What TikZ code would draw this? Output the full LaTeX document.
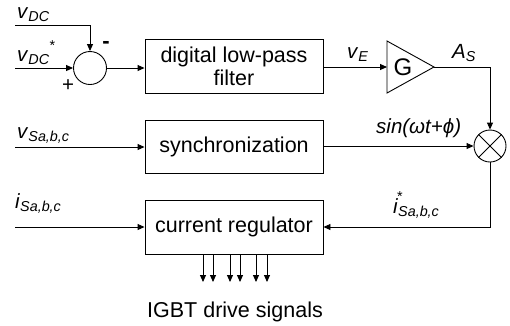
\documentclass[tikz,border=0pt]{standalone}
\usepackage{fontspec}
\setmainfont{Liberation Sans}
\usetikzlibrary{arrows.meta,calc}
\newcommand{\lbl}[2]{\textit{#1}\textsubscript{\textit{#2}}}
\begin{document}
\begin{tikzpicture}[x=1pt,y=-1pt,
  font=\fontsize{20.5}{24}\selectfont,
  big/.style={font=\fontsize{21.5}{25}\selectfont},
  wire/.style={line width=0.9pt},
  sig/.style={line width=0.9pt,-{Triangle[length=7pt,width=6pt]}},
  blk/.style={draw,line width=0.9pt,minimum width=178pt,minimum height=54pt,align=center,inner sep=0pt,big},
  lab/.style={inner sep=0pt,anchor=base west},
  cir/.style={draw,circle,line width=0.9pt,minimum size=33pt,inner sep=0pt}]
\useasboundingbox (0,0) rectangle (510,325);
% blocks
\node[blk] (filter) at (234,66) {digital low-pass\\[-2pt]filter};
\node[blk, minimum height=53pt] (sync) at (234,146.5) {synchronization};
\node[blk] (reg) at (234,227) {current regulator};
% summing junction and multiplier
\node[cir] (sum) at (90,68) {};
\node[cir, minimum size=32pt] (mult) at (490,146) {};
\draw[wire] (mult.north west) -- (mult.south east) (mult.north east) -- (mult.south west);
% gain triangle
\coordinate (Gin) at (387,67);
\coordinate (Gout) at (434,67);
\draw[wire] (387,41) -- (Gout) -- (387,93) -- cycle;
\node[font=\fontsize{24}{28}\selectfont] (G) at (403,67) {G};
% input coordinates
\coordinate (inA) at (15,25);
\coordinate (inB) at (15,68);
\coordinate (inC) at (15,147);
\coordinate (inD) at (15,227);
\coordinate (cA) at (490,67);
\coordinate (cB) at (490,227);
% connectors
\draw[sig] (inA) -| (sum.north);
\draw[sig] (inB) -- (sum.west);
\draw[sig] (sum.east) -- (sum.east -| filter.west);
\draw[sig] (filter.east |- Gin) -- (Gin);
\draw[sig] (Gout) -- (cA) -- (mult.north);
\draw[sig] (inC) -- (sync.west |- inC);
\draw[sig] (sync.east |- mult.west) -- (mult.west);
\draw[sig] (mult.south) -- (cB) -- (reg.east |- cB);
\draw[sig] (inD) -- (reg.west |- inD);
% drive signal arrows
\foreach \xx/\nm in {203/a,213/b,230/c,240/d,256/e,267/f}{
  \coordinate (o\nm) at (\xx,282);
  \draw[sig] (reg.south -| o\nm) -- (o\nm);
}
% labels
\node[lab] (lvdc) at (17,18) {\lbl{v}{DC}};
\node[lab] (lvdcs) at (17,61) {\lbl{v}{DC}\raisebox{3pt}{\textsuperscript{*}}};
\node[inner sep=0pt,font=\fontsize{22}{26}\selectfont\bfseries] (minus) at (106,45) {-};
\node[inner sep=0pt] (plus) at (68,86) {+};
\node[lab] (lve) at (347,58) {\lbl{v}{E}};
\node[lab] (las) at (452,58) {\lbl{A}{S}};
\node[lab] (lsin) at (376,133) {\textit{sin(ωt+ϕ)}};
\node[lab] (lvs) at (17,138) {\lbl{v}{Sa,b,c}};
\node[lab] (lis) at (15,208) {\lbl{i}{Sa,b,c}};
\node[lab] (listar) at (393,213) {\textit{i}\kern-1pt\rlap{\raisebox{4pt}{\textsuperscript{*}}}\kern1pt\textsubscript{\textit{Sa,b,c}}};
\node[anchor=base,big] (igbt) at (235,317) {IGBT drive signals};
\end{tikzpicture}
\end{document}
